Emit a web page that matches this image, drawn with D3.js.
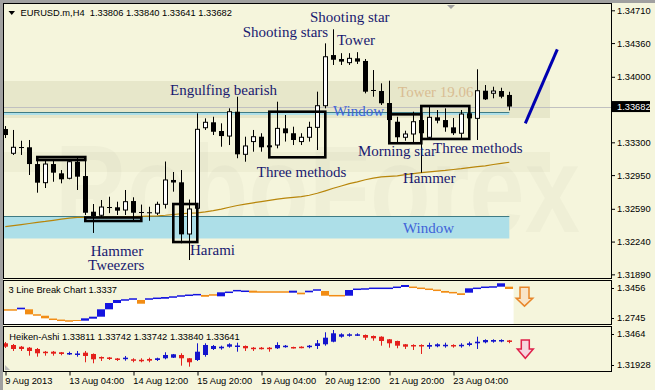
<!DOCTYPE html>
<html><head><meta charset="utf-8">
<script src="https://cdn.jsdelivr.net/npm/d3@7/dist/d3.min.js"></script>
<style>html,body{margin:0;padding:0;background:#f5f5dc;}svg{display:block;}</style>
</head><body>
<svg id="c" width="655" height="390"></svg>
<script>
// ---------- DATA ----------
const symbolTitle = "EURUSD.m,H4";
const lastBar = {o:1.33806, h:1.33840, l:1.33641, c:1.33682};
const open = [1.33442,1.33183,1.33250,1.33247,1.33068,1.32869,1.33068,1.32969,1.32916,1.33093,
1.32940,1.32559,1.32521,1.32609,1.32606,1.32577,1.32673,1.32556,1.32553,1.32544,
1.32638,1.32898,1.32873,1.32321,1.32596,1.33456,1.33514,1.33421,1.33367,1.33627,
1.33172,1.33308,1.33360,1.33268,1.33271,1.33449,1.33397,1.33308,1.33354,1.33460,
1.33691,1.34232,1.34190,1.34151,1.34197,1.34169,1.33859,1.33848,1.33720,1.33520,
1.33354,1.33389,1.33538,1.33354,1.33567,1.33538,1.33460,1.33397,1.33610,1.33556,
1.33851,1.33824,1.33848,1.33806];
const high = [1.33474,1.33432,1.33317,1.33325,1.33146,1.33111,1.33111,1.33004,1.33111,1.33146,
1.33154,1.32641,1.32684,1.32719,1.32666,1.32791,1.32713,1.32635,1.32612,1.32666,
1.33095,1.32983,1.33004,1.32689,1.33610,1.33556,1.33573,1.33503,1.33663,1.33787,
1.33360,1.33432,1.33397,1.33290,1.33734,1.33592,1.33467,1.33397,1.33520,1.33841,
1.34357,1.34507,1.34252,1.34252,1.34263,1.34190,1.34072,1.33930,1.33958,1.33573,
1.33424,1.33627,1.33624,1.33680,1.33645,1.33663,1.33560,1.33645,1.33680,1.34080,
1.33912,1.33894,1.33883,1.33840];
const low = [1.33346,1.33165,1.33165,1.32951,1.32762,1.32812,1.32879,1.32862,1.32905,1.32791,
1.32524,1.32332,1.32492,1.32544,1.32524,1.32524,1.32470,1.32470,1.32462,1.32524,
1.32593,1.32773,1.32222,1.32043,1.32577,1.33432,1.33378,1.33253,1.33271,1.33130,
1.33093,1.33200,1.33200,1.33218,1.33236,1.33308,1.33271,1.33271,1.33308,1.33218,
1.33663,1.34126,1.34126,1.34126,1.34137,1.33823,1.33787,1.33699,1.33520,1.33296,
1.33317,1.33290,1.32976,1.33325,1.33503,1.33413,1.33378,1.33325,1.33538,1.33325,
1.33752,1.33770,1.33770,1.33641];
const close = [1.33378,1.33247,1.33239,1.33068,1.32869,1.33068,1.32976,1.32905,1.33093,1.32933,
1.32548,1.32513,1.32609,1.32602,1.32570,1.32666,1.32548,1.32551,1.32544,1.32638,
1.32898,1.32871,1.32317,1.32588,1.33439,1.33514,1.33413,1.33367,1.33627,1.33172,
1.33261,1.33360,1.33247,1.33247,1.33449,1.33397,1.33325,1.33354,1.33460,1.33691,
1.34214,1.34182,1.34162,1.34197,1.34162,1.33841,1.33851,1.33717,1.33538,1.33354,
1.33389,1.33520,1.33397,1.33567,1.33531,1.33460,1.33397,1.33602,1.33556,1.33851,
1.33759,1.33848,1.33787,1.33682];
const movingAvg = [1.32399,1.32410,1.32421,1.32433,1.32445,1.32455,1.32467,1.32479,1.32491,1.32498,
1.32499,1.32500,1.32501,1.32502,1.32502,1.32504,1.32506,1.32509,1.32512,1.32515,
1.32521,1.32529,1.32537,1.32543,1.32547,1.32558,1.32571,1.32586,1.32607,1.32625,
1.32640,1.32654,1.32667,1.32681,1.32693,1.32704,1.32713,1.32721,1.32735,1.32756,
1.32782,1.32809,1.32834,1.32859,1.32878,1.32900,1.32917,1.32930,1.32936,1.32942,
1.32956,1.32966,1.32976,1.32984,1.32993,1.33000,1.33010,1.33019,1.33030,1.33040,
1.33049,1.33063,1.33075,1.33087];
// 3 Line Break
const lbName = "3 Line Break Chart 1.3337";
const lbHigh = [1.2977,1.2977,1.3015,1.2988,1.2894,1.2882,1.2823,1.2806,1.2795,1.2811,
1.2839,1.2866,1.2988,1.3092,1.3142,1.3142,1.3158,1.3142,1.3158,1.3170,
1.3191,1.3191,1.3208,1.3220,1.3230,1.3225,1.3225,1.3269,1.3269,1.3296,
1.3286,1.3296,1.3274,1.3274,1.3274,1.3274,1.3296,1.3263,1.3296,1.3307,
1.3291,1.3213,1.3213,1.3307,1.3319,1.3324,1.3335,1.3335,1.3335,1.3352,
1.3390,1.3352,1.3335,1.3319,1.3302,1.3291,1.3263,1.3253,1.3335,1.3335,
1.3352,1.3357,1.3418,1.3362];
const lbLow = [1.2977,1.2977,1.2988,1.2905,1.2894,1.2839,1.2823,1.2806,1.2795,1.2795,
1.2800,1.2833,1.2866,1.2988,1.3092,1.3142,1.3158,1.3081,1.3158,1.3170,
1.3163,1.3191,1.3208,1.3220,1.3230,1.3196,1.3225,1.3203,1.3269,1.3296,
1.3286,1.3263,1.3274,1.3274,1.3274,1.3274,1.3263,1.3236,1.3269,1.3307,
1.3213,1.3213,1.3213,1.3213,1.3319,1.3324,1.3335,1.3335,1.3335,1.3352,
1.3357,1.3352,1.3335,1.3319,1.3302,1.3263,1.3263,1.3225,1.3263,1.3335,
1.3352,1.3357,1.3362,1.3324];
const lbDir = ("dduddddddd"+"uuuuuuuduu"+"uuuuudduuu"+"uddddduduu"+"ddduuuuuuu"+"uddddddduu"+"uuud").split("");
const lbAxis = [1.3456, 1.2745];
// Heiken-Ashi
const haName = "Heiken-Ashi 1.33811 1.33742 1.33742 1.33840 1.33641";
const haOpen = [1.33636,1.33531,1.33426,1.33365,1.33285,1.33118,1.33118,1.33082,1.32977,1.32946,
1.33057,1.32977,1.32792,1.32761,1.32700,1.32669,1.32650,1.32620,1.32669,1.32607,
1.32712,1.32749,1.32915,1.32712,1.32607,1.32915,1.33285,1.33328,1.33426,1.33439,
1.33470,1.33365,1.33365,1.33365,1.33328,1.33408,1.33408,1.33426,1.33408,1.33470,
1.33574,1.33734,1.34042,1.34104,1.34147,1.34147,1.34086,1.34042,1.33882,1.33778,
1.33574,1.33531,1.33531,1.33426,1.33451,1.33482,1.33531,1.33482,1.33531,1.33636,
1.33698,1.33734,1.33759,1.33811];
const haHigh = [1.33716,1.33593,1.33470,1.33408,1.33346,1.33162,1.33162,1.33100,1.33118,1.33162,
1.33162,1.33008,1.32823,1.32792,1.32730,1.32854,1.32712,1.32712,1.32749,1.32749,
1.33082,1.32977,1.33020,1.32730,1.33636,1.33636,1.33531,1.33488,1.33636,1.33673,
1.33500,1.33408,1.33408,1.33408,1.33698,1.33531,1.33426,1.33451,1.33531,1.33839,
1.34314,1.34455,1.34252,1.34252,1.34252,1.34178,1.34116,1.34067,1.33901,1.33796,
1.33593,1.33574,1.33574,1.33673,1.33636,1.33673,1.33574,1.33636,1.33734,1.34042,
1.33882,1.33882,1.33882,1.33840];
const haLow = [1.33346,1.33162,1.33162,1.32872,1.32810,1.32872,1.32872,1.32897,1.32915,1.32810,
1.32466,1.32404,1.32546,1.32607,1.32546,1.32564,1.32466,1.32466,1.32466,1.32546,
1.32650,1.32730,1.32256,1.32194,1.32546,1.32810,1.33223,1.33242,1.33365,1.33118,
1.33162,1.33162,1.33254,1.33118,1.33285,1.33365,1.33316,1.33328,1.33328,1.33285,
1.33488,1.33698,1.33981,1.34042,1.34086,1.33839,1.33796,1.33488,1.33365,1.33328,
1.33285,1.33223,1.32977,1.33285,1.33390,1.33365,1.33365,1.33365,1.33451,1.33285,
1.33636,1.33673,1.33698,1.33641];
const haClose = [1.33426,1.33285,1.33285,1.33162,1.33020,1.33038,1.32995,1.32977,1.33038,1.33008,
1.32854,1.32650,1.32712,1.32700,1.32650,1.32749,1.32564,1.32558,1.32564,1.32712,
1.32915,1.32958,1.32712,1.32466,1.33118,1.33531,1.33470,1.33426,1.33574,1.33500,
1.33328,1.33285,1.33303,1.33285,1.33531,1.33488,1.33365,1.33365,1.33488,1.33636,
1.33981,1.34252,1.34190,1.34190,1.34190,1.33981,1.33944,1.33778,1.33636,1.33488,
1.33426,1.33451,1.33470,1.33531,1.33574,1.33544,1.33451,1.33544,1.33636,1.33734,
1.33839,1.33839,1.33839,1.33742];
const haAxis = [1.3464, 1.31928];
// axes
const priceTicks = [1.34710,1.34360,1.34000,1.33300,1.32950,1.32590,1.32240,1.31890];
const timeTickBars = [0,8,16,24,32,40,48,56];
const timeTickLabels = ["9 Aug 2013","13 Aug 04:00","14 Aug 12:00","15 Aug 20:00","19 Aug 04:00","20 Aug 12:00","21 Aug 20:00","23 Aug 04:00"];
// chart objects (bar index / price anchors)
const bandZones = [{i0:-1,i1:68,p0:1.33560,p1:1.33955,kind:"tower"},{i0:-1,i1:68,p0:1.32983,p1:1.33197,kind:"faint"}];
const windowZones = [{i0:-1,i1:63,p0:1.33592,p1:1.33624},{i0:-1,i1:63,p0:1.32273,p1:1.32513}];
const patternBoxes = [
 {i0:4,i1:10,p0:1.33111,p1:1.33143},
 {i0:10,i1:17,p0:1.32460,p1:1.32497},
 {i0:21,i1:24,p0:1.32235,p1:1.32641},
 {i0:33,i1:40,p0:1.33140,p1:1.33627},
 {i0:48,i1:52,p0:1.33290,p1:1.33599},
 {i0:52,i1:58,p0:1.33336,p1:1.33688}];
const trendLine = [{i:65,p:1.33503},{i:69,p:1.34293}];
const patternLabels = [
 {t:"Shooting star",i:38.09,p:1.34585,kind:"n"},
 {t:"Shooting stars",i:29.68,p:1.34425,kind:"n"},
 {t:"Tower",i:41.46,p:1.34339,kind:"n"},
 {t:"Engulfing bearish",i:20.59,p:1.33805,kind:"n"},
 {t:"Window",i:40.96,p:1.33576,kind:"w"},
 {t:"Tower 19.06",i:49.09,p:1.33789,kind:"t"},
 {t:"Three methods",i:31.43,p:1.32935,kind:"n"},
 {t:"Morning star",i:44.09,p:1.33159,kind:"n"},
 {t:"Three methods",i:53.46,p:1.33186,kind:"n"},
 {t:"Hammer",i:49.71,p:1.32866,kind:"n"},
 {t:"Window",i:49.71,p:1.32332,kind:"w"},
 {t:"Hammer",i:10.68,p:1.32086,kind:"n"},
 {t:"Tweezers",i:10.34,p:1.31936,kind:"n"},
 {t:"Harami",i:23.09,p:1.32097,kind:"n"}];

// ---------- DRAW ----------
const n = open.length;
const svg = d3.select("#c");
const L = 4, R = 611;
const P1 = {t:4,b:278}, P2 = {t:281,b:324}, P3 = {t:327,b:371};
const x = d3.scaleLinear().domain([0,1]).range([5.3,13.3]);
const y = d3.scaleLinear().domain([1.31851,1.34788]).range([278,3]);
const y2 = d3.scaleLinear().domain([lbAxis[1],lbAxis[0]]).range([P2.b,P2.t]);
const y3 = d3.scaleLinear().domain([haAxis[1],haAxis[0]]).range([P3.b,P3.t]);
const cx = i => Math.round(x(i));
const sans = "'Liberation Sans', Arial, sans-serif";
const serif = "'Liberation Serif', 'Times New Roman', serif";

svg.append("rect").attr("width",655).attr("height",390).attr("fill","#f5f5dc");
svg.append("rect").attr("width",655).attr("height",3).attr("fill","#a0a0a0");
svg.append("rect").attr("width",3).attr("height",390).attr("fill","#a0a0a0");

const defs = svg.append("defs");
[["c1",P1],["c2",P2],["c3",P3]].forEach(([id,p])=>{
  defs.append("clipPath").attr("id",id).append("rect").attr("x",L).attr("y",p.t).attr("width",R-L).attr("height",p.b-p.t);
});

// main pane
const g1 = svg.append("g").attr("clip-path","url(#c1)");
g1.append("text").attr("x",55).attr("y",232).attr("font-family",sans).attr("font-weight","bold")
  .attr("font-size",125).attr("textLength",525).attr("lengthAdjust","spacingAndGlyphs")
  .attr("fill","rgba(0,0,0,0.022)").text("RoboForex");
g1.append("text").attr("x",303).attr("y",251).attr("font-family",sans).attr("font-size",13)
  .attr("textLength",282).attr("lengthAdjust","spacingAndGlyphs")
  .attr("fill","rgba(0,0,0,0.025)").text("ИСПОЛЬЗУЙ РОБОТОВ – ПОЛУЧАЙ ПРИБЫЛЬ");

g1.selectAll("rect.band").data(bandZones).join("rect").attr("class","band")
  .attr("x",d=>x(d.i0)).attr("width",d=>x(d.i1)-x(d.i0)+0.7)
  .attr("y",d=>y(d.p1)).attr("height",d=>y(d.p0)-y(d.p1))
  .attr("fill",d=>d.kind==="tower"?"rgba(120,115,60,0.11)":"rgba(120,115,60,0.05)");

g1.selectAll("rect.win").data(windowZones).join("rect").attr("class","win")
  .attr("x",d=>x(d.i0)).attr("width",d=>x(d.i1)-x(d.i0))
  .attr("y",d=>y(d.p1)).attr("height",d=>Math.max(2,y(d.p0)-y(d.p1)))
  .attr("fill","#addfe8");
g1.selectAll("line.win").data(windowZones).join("line").attr("class","win")
  .attr("x1",d=>x(d.i0)).attr("x2",d=>x(d.i1)).attr("y1",d=>Math.round(y(d.p1))+0.5).attr("y2",d=>Math.round(y(d.p1))+0.5)
  .attr("stroke","#3f7b84").attr("stroke-width",1);

g1.append("line").attr("x1",L).attr("x2",R).attr("y1",Math.round(y(lastBar.c))+0.5).attr("y2",Math.round(y(lastBar.c))+0.5)
  .attr("stroke","#c0c0c0").attr("stroke-width",1);

g1.append("path").datum(movingAvg).attr("fill","none").attr("stroke","#b8860b").attr("stroke-width",1.2)
  .attr("d",d3.line().x((d,i)=>x(i)).y(d=>y(d)));

const idx = d3.range(n);
g1.selectAll("line.wick").data(idx).join("line").attr("class","wick")
  .attr("x1",i=>cx(i)+0.5).attr("x2",i=>cx(i)+0.5).attr("y1",i=>y(high[i])).attr("y2",i=>y(low[i]))
  .attr("stroke","#000").attr("stroke-width",1);
g1.selectAll("rect.body").data(idx).join("rect").attr("class","body")
  .each(function(i){
    const up = close[i] > open[i];
    const top = y(Math.max(open[i],close[i])), bot = y(Math.min(open[i],close[i]));
    const h = Math.max(1, bot-top);
    const s = d3.select(this);
    if(up){ s.attr("x",cx(i)-1.5).attr("width",4).attr("y",top).attr("height",h).attr("fill","#fff").attr("stroke","#000").attr("stroke-width",1); }
    else { s.attr("x",cx(i)-2).attr("width",5).attr("y",top).attr("height",h).attr("fill","#000"); }
  });

g1.selectAll("rect.box").data(patternBoxes).join("rect").attr("class","box")
  .attr("x",d=>x(d.i0)).attr("width",d=>x(d.i1)-x(d.i0))
  .attr("y",d=>y(d.p1)).attr("height",d=>y(d.p0)-y(d.p1))
  .attr("fill","none").attr("stroke","#000").attr("stroke-width",2.6);

g1.append("path").datum(trendLine).attr("fill","none").attr("stroke","#0000b0").attr("stroke-width",3)
  .attr("d",d3.line().x(d=>x(d.i)).y(d=>y(d.p)));

g1.selectAll("text.lab").data(patternLabels).join("text").attr("class","lab")
  .attr("x",d=>x(d.i)).attr("y",d=>y(d.p)).attr("font-family",serif).attr("font-size",15)
  .attr("fill",d=>d.kind==="w"?"#3f63d8":(d.kind==="t"?"#d9bd93":"#191970")).text(d=>d.t);

// header
svg.append("path").attr("d","M8.5,11 L15,11 L11.75,15 Z").attr("fill","#000");
svg.append("text").attr("x",20.5).attr("y",16).attr("font-family",sans).attr("font-size",9.3).attr("fill","#000")
  .attr("xml:space","preserve")
  .text(symbolTitle+"  "+[lastBar.o,lastBar.h,lastBar.l,lastBar.c].map(d3.format(".5f")).join(" "));
svg.append("path").attr("d","M447,5 L455,5 L451,9 Z").attr("fill","#a0a0a0");

// price axis
const ay = svg.append("g").attr("transform",`translate(${R},0)`)
  .call(d3.axisRight(y).tickValues(priceTicks).tickSize(4).tickPadding(2).tickFormat(d3.format(".5f")));
ay.select(".domain").remove();
ay.selectAll("text").attr("font-family",sans).attr("font-size",9.3).attr("fill","#000");
ay.selectAll("line").attr("stroke","#000");
const yc = y(lastBar.c);
svg.append("rect").attr("x",R+1).attr("y",yc-5.5).attr("width",38).attr("height",11).attr("fill","#000");
svg.append("text").attr("x",R+6).attr("y",yc+3.3).attr("font-family",sans).attr("font-size",9.3).attr("fill","#fff").text(d3.format(".5f")(lastBar.c));

// pane 2: 3 line break
const g2 = svg.append("g").attr("clip-path","url(#c2)");
g2.selectAll("rect.lbw").data(idx).join("rect").attr("class","lbw")
  .attr("x",i=>cx(i)-4).attr("width",8.6).attr("y",i=>y2(lbLow[i])).attr("height",i=>P2.b-y2(lbLow[i]))
  .attr("fill","#fff");
g2.selectAll("rect.lbb").data(idx).join("rect").attr("class","lbb")
  .attr("x",i=>cx(i)-4).attr("width",8)
  .attr("y",i=>lbHigh[i]===lbLow[i]? y2(lbHigh[i])-0.75 : y2(lbHigh[i]))
  .attr("height",i=>lbHigh[i]===lbLow[i]? 1.5 : y2(lbLow[i])-y2(lbHigh[i]))
  .attr("fill",i=>lbDir[i]==="u"?"#1414e0":"#f28c14");
const arrowPath = (c,t,b,sh,hh,sb)=>`M${c-sh},${t}L${c+sh},${t}L${c+sh},${sb}L${c+hh},${sb}L${c},${b}L${c-hh},${sb}L${c-sh},${sb}Z`;
svg.append("path").attr("d",arrowPath(x(64.9),y2(1.3354),y2(1.3040),4.5,8.3,y2(1.3172)))
  .attr("fill","#f8e4c8").attr("stroke","#e8862a").attr("stroke-width",1.5);
svg.append("text").attr("x",8.5).attr("y",293.3).attr("font-family",sans).attr("font-size",9.3).text(lbName);

// pane 3: heiken ashi
const g3 = svg.append("g").attr("clip-path","url(#c3)");
const haCol = i => haClose[i] > haOpen[i] ? "#1414cc" : "#e4201c";
g3.selectAll("line.haw").data(idx).join("line").attr("class","haw")
  .attr("x1",i=>cx(i)+0.5).attr("x2",i=>cx(i)+0.5).attr("y1",i=>y3(haHigh[i])).attr("y2",i=>y3(haLow[i]))
  .attr("stroke",haCol).attr("stroke-width",1);
g3.selectAll("rect.hab").data(idx).join("rect").attr("class","hab")
  .attr("x",i=>cx(i)-2).attr("width",5)
  .attr("y",i=>y3(Math.max(haOpen[i],haClose[i])))
  .attr("height",i=>Math.max(1.5,Math.abs(y3(haOpen[i])-y3(haClose[i]))))
  .attr("fill",haCol);
svg.append("path").attr("d",arrowPath(x(65),y3(1.33840),y3(1.32712),4,8,y3(1.33286)))
  .attr("fill","#f6d6de").attr("stroke","#e0204a").attr("stroke-width",1.5);
svg.append("text").attr("x",9.3).attr("y",340).attr("font-family",sans).attr("font-size",9.3).text(haName);
svg.append("path").attr("d","M5,365 L5,370 L10,370 Z").attr("fill","#b8b8b8");

// sub-pane axis labels
[[y2,lbAxis,P2],[y3,haAxis,P3]].forEach(([sc,vals,p])=>{
  const top = p.t + 7, bot = p.b - 6.5;
  [[vals[0],top],[vals[1],bot]].forEach(([v,yy])=>{
    svg.append("line").attr("x1",R).attr("x2",R+3).attr("y1",Math.round(yy)+0.5).attr("y2",Math.round(yy)+0.5).attr("stroke","#000");
    svg.append("text").attr("x",R+6).attr("y",yy+3.3).attr("font-family",sans).attr("font-size",9.3).text(String(v));
  });
});

// frames
[P1,P2,P3].forEach(p=>{
  svg.append("rect").attr("x",L-0.5).attr("y",p.t-0.5).attr("width",R-L+1).attr("height",p.b-p.t+1)
    .attr("fill","none").attr("stroke","#000").attr("stroke-width",1);
});

// time axis
const ax = svg.append("g").attr("transform",`translate(0.5,${P3.b+0.5})`)
  .call(d3.axisBottom(x).tickValues(timeTickBars).tickSize(4).tickPadding(2).tickFormat((d,i)=>timeTickLabels[i]));
ax.select(".domain").remove();
ax.selectAll("line").attr("stroke","#000");
ax.selectAll(".tick line").attr("x1",d=>cx(d)-x(d)).attr("x2",d=>cx(d)-x(d));
ax.selectAll("text").attr("text-anchor","start").attr("x",-1).attr("dy","0.71em")
  .attr("font-family",sans).attr("font-size",9.3).attr("fill","#000");
</script>
</body></html>
